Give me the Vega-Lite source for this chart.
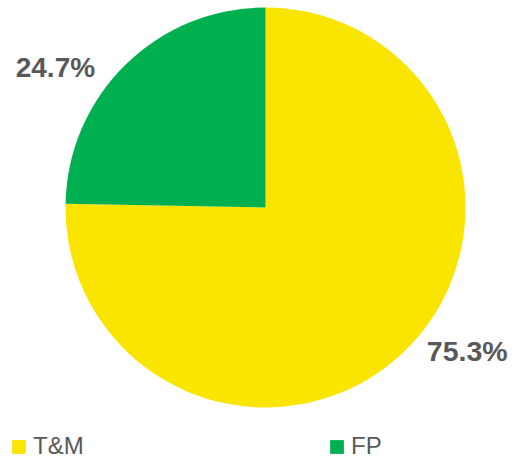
{
  "$schema": "https://vega.github.io/schema/vega-lite/v6.json",
  "width": 495,
  "height": 415,
  "padding": {"left": 18, "top": 0, "right": 0, "bottom": 46},
  "autosize": {"type": "none"},
  "background": "white",
  "config": {"view": {"stroke": null}, "font": "Liberation Sans"},
  "data": {"values": [
    {"category": "T&M", "share": 0.753},
    {"category": "FP", "share": 0.247}
  ]},
  "encoding": {
    "theta": {"field": "share", "type": "quantitative", "stack": true},
    "order": {"field": "category", "sort": "descending"},
    "color": {
      "field": "category",
      "type": "nominal",
      "scale": {"domain": ["T&M", "FP"], "range": ["#F9E500", "#00B050"]},
      "legend": {
        "title": null,
        "orient": "none",
        "legendX": -11,
        "legendY": 435,
        "padding": 0,
        "direction": "horizontal",
        "columns": 2,
        "columnPadding": 241,
        "symbolType": "square",
        "symbolSize": 190,
        "symbolStrokeWidth": 0,
        "labelFont": "Liberation Sans",
        "labelFontSize": 24,
        "labelColor": "#595959",
        "labelOffset": 2,
        "labelLimit": 300
      }
    }
  },
  "layer": [
    {"mark": {"type": "arc", "outerRadius": 200}},
    {
      "mark": {"type": "text", "radius": 216, "align": "left", "baseline": "middle", "dx": 10, "dy": -10, "font": "Liberation Sans", "fontSize": 28.5, "fontWeight": "bold"},
      "encoding": {
        "text": {"condition": {"test": "datum.category === 'T&M'", "field": "share", "type": "quantitative", "format": ".1%"}, "value": ""},
        "color": {"value": "#595959"}
      }
    },
    {
      "mark": {"type": "text", "radius": 219, "align": "right", "baseline": "middle", "dx": -17, "dy": 18, "font": "Liberation Sans", "fontSize": 28, "fontWeight": "bold"},
      "encoding": {
        "text": {"condition": {"test": "datum.category === 'FP'", "field": "share", "type": "quantitative", "format": ".1%"}, "value": ""},
        "color": {"value": "#595959"}
      }
    }
  ]
}
